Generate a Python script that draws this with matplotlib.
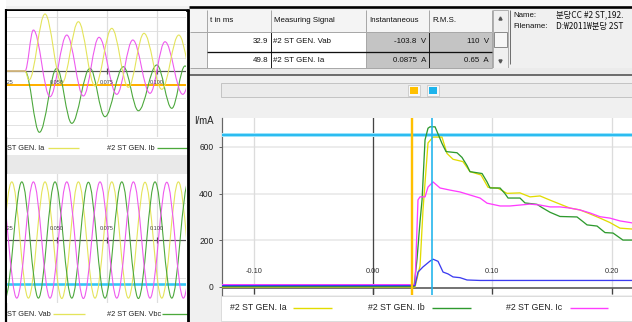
import matplotlib
matplotlib.use("Agg")
import matplotlib.pyplot as plt
from matplotlib import font_manager
from matplotlib.path import Path
from matplotlib.patches import PathPatch, Rectangle

W, H = 632, 322  # output size in pixels (dpi 100)

# ---------------------------------------------------------------- data
# cursor table (t in ms, signal, instantaneous, rms)
CURSOR_MS = [32.9, 49.8]
CURSOR_SIGNALS = ["#2 ST GEN. Vab", "#2 ST GEN. Ia"]
CURSOR_INST = ["-103.8  V", "0.0875  A"]
CURSOR_RMS = ["110  V", "0.65  A"]
TABLE_HEADER = ["t in ms", "Measuring Signal", "Instantaneous", "R.M.S."]
FILE_INFO = [("Name:", "분당CC #2 ST,192."), ("Filename:", "D:₩2011₩분당 2ST")]

# left/top: instantaneous currents (extrema), s / mA
IA_T = [0.025, 0.034, 0.036, 0.044, 0.0524, 0.0607, 0.069, 0.0774, 0.0857, 0.0935, 0.1024, 0.1109, 0.1192]
IA_V = [0, 0, -134, 851, -184, 736, -224, 637, -243, 563, -273, 537, -280]
IB_T = [0.025, 0.034, 0.0412, 0.0499, 0.0574, 0.0665, 0.074, 0.0832, 0.0907, 0.0999, 0.1074, 0.114, 0.1225]
IB_V = [0, 0, -915, 40, -781, 40, -682, 64, -593, 90, -557, 75, -540]
IC_T = [0.025, 0.034, 0.0382, 0.0465, 0.0549, 0.0632, 0.071, 0.0799, 0.0879, 0.0965, 0.104, 0.1129, 0.121]
IC_V = [0, 0, 612, -384, 537, -373, 503, -348, 463, -333, 437, -348, 430]
TOP_HLINE = -210

# left/bottom: phase-to-phase voltages (extrema), s / V
VAB_T = [0.019, 0.0274, 0.0357, 0.044, 0.0524, 0.0607, 0.069, 0.0774, 0.0857, 0.094, 0.1024, 0.1107, 0.119]
VAB_V = [-154, 156, -154, 156, -155, 156, -154, 156, -154, 155, -154, 156, -154]
VBC_T = [0.024, 0.0324, 0.0407, 0.049, 0.0574, 0.0657, 0.074, 0.0824, 0.0907, 0.099, 0.1074, 0.1157, 0.124]
VBC_V = [-154, 156, -154, 156, -154, 155, -154, 156, -155, 156, -154, 156, -154]
VCA_T = [0.0215, 0.0299, 0.0382, 0.0465, 0.0549, 0.0632, 0.0715, 0.0799, 0.0882, 0.0965, 0.1049, 0.1132, 0.1215]
VCA_V = [156, -154, 156, -154, 156, -155, 156, -154, 156, -154, 155, -154, 156]
BOT_HLINE = -116

# main chart: rms currents, s / mA
RMS_IA_T = [-0.13, 0.0352, 0.0394, 0.0419, 0.0461, 0.0503, 0.0578, 0.0620, 0.0671, 0.0754, 0.0813, 0.0905,
            0.0964, 0.1048, 0.1123, 0.1232, 0.1316, 0.1400, 0.1484, 0.1567, 0.1651, 0.1735, 0.1819, 0.1903,
            0.1986, 0.2070, 0.218]
RMS_IA_V = [0, 0, 90, 330, 617, 642, 642, 572, 547, 537, 494, 480, 427, 423, 401, 403, 386, 390, 372, 355,
            338, 330, 313, 295, 276, 252, 248]
RMS_IB_T = [-0.13, 0.0344, 0.0369, 0.0394, 0.0411, 0.0436, 0.0461, 0.0478, 0.0520, 0.0578, 0.0612, 0.0704,
            0.0746, 0.0788, 0.0813, 0.0914, 0.0956, 0.0981, 0.1065, 0.1106, 0.1132, 0.1232, 0.1274, 0.1375,
            0.1417, 0.1484, 0.1567, 0.1710, 0.1760, 0.1794, 0.1878, 0.1928, 0.1945, 0.2012, 0.2070, 0.2095, 0.218]
RMS_IB_V = [2, 2, 120, 280, 373, 630, 680, 686, 686, 615, 580, 575, 555, 520, 494, 486, 450, 424, 424, 400,
            381, 381, 360, 354, 340, 320, 302, 300, 280, 266, 261, 240, 233, 231, 210, 201, 201]
RMS_IC_T = [-0.13, 0.0352, 0.0369, 0.0377, 0.0394, 0.0436, 0.0461, 0.0503, 0.0562, 0.0645, 0.0729, 0.0813,
            0.0897, 0.0956, 0.1065, 0.1148, 0.1232, 0.1316, 0.1400, 0.1484, 0.1567, 0.1651, 0.1735, 0.1819,
            0.1903, 0.1986, 0.2070, 0.218]
RMS_IC_V = [10, 10, 257, 373, 386, 386, 428, 450, 424, 415, 407, 394, 381, 359, 347, 347, 351, 355, 351,
            343, 343, 338, 330, 317, 301, 295, 283, 274]
RMS_IN_T = [-0.13, 0.0352, 0.0377, 0.0419, 0.0478, 0.0503, 0.0545, 0.0587, 0.0629, 0.0671, 0.0729, 0.0788,
            0.0897, 0.218]
RMS_IN_V = [6, 6, 64, 86, 111, 119, 110, 64, 56, 43, 40, 30, 28, 28]

RMS_LIMIT = 650
CURSOR_COLORS = ["#ffc000", "#1eb4ec"]
MAIN_LABELS = ["#2 ST GEN. Ia", "#2 ST GEN. Ib", "#2 ST GEN. Ic"]
MAIN_COLORS = ["#e2dc00", "#2e9a2e", "#ff3cff", "#3c3cf0"]
WAVE_COLORS = ["#e4e45a", "#4ca83c", "#ee5aee"]
MAIN_XTICKS = [-0.10, 0.00, 0.10, 0.20]
MAIN_YTICKS = [0, 200, 400, 600]
LEFT_XTICKS = [0.025, 0.050, 0.075, 0.100]

# ---------------------------------------------------------------- fonts
_avail = {f.name for f in font_manager.fontManager.ttflist}
UI = next((f for f in ["Liberation Sans Narrow", "Arial Narrow", "Liberation Sans"] if f in _avail), "DejaVu Sans")
NARROW = UI != "Liberation Sans"
FS = 1.0 if NARROW else 0.83  # plain Liberation Sans runs wider than the screenshot font
plt.rcParams["font.family"] = [UI, "Noto Sans CJK KR", "DejaVu Sans"]


def fig_rect(x0, y0, x1, y1):
    return [x0 / W, 1 - y1 / H, (x1 - x0) / W, (y1 - y0) / H]


def px(v):
    return v * 0.72


def smooth_wave(ax, ts, vs, color, lw, z):
    # horizontal tangents at each extremum -> sine-like segments
    verts = [(ts[0], vs[0])]
    codes = [Path.MOVETO]
    for t0, v0, t1, v1 in zip(ts[:-1], vs[:-1], ts[1:], vs[1:]):
        d = (t1 - t0) * 0.3642
        verts += [(t0 + d, v0), (t1 - d, v1), (t1, v1)]
        codes += [Path.CURVE4] * 3
    ax.add_patch(PathPatch(Path(verts, codes), facecolor="none", edgecolor=color, lw=lw, zorder=z))


fig = plt.figure(figsize=(W / 100, H / 100), dpi=100, facecolor="#f0f0f0")

# ---------------------------------------------------------------- background / chrome
bg = fig.add_axes([0, 0, 1, 1], zorder=0)
bg.set_xlim(0, W)
bg.set_ylim(H, 0)
bg.axis("off")


def rect(x0, y0, x1, y1, fc, ec="none", lw=0.0):
    bg.add_patch(Rectangle((x0, y0), x1 - x0, y1 - y0, facecolor=fc, edgecolor=ec, lw=px(lw)))


def hline(x0, x1, y, color, lw):
    bg.plot([x0, x1], [y, y], color=color, lw=px(lw), solid_capstyle="butt")


def vline(x, y0, y1, color, lw):
    bg.plot([x, x], [y0, y1], color=color, lw=px(lw), solid_capstyle="butt")


rect(0, 0, W, 6, "#f8f8f8")
rect(0, 0, 6, H, "#ffffff")
rect(6, 10, 188, 322, "#ffffff")
rect(6, 155, 188, 174, "#e9e9e9")

# left legends
hline(6, 188, 137.5, "#e0e0e0", 1)
bg.text(7, 148, "ST GEN. Ia", fontsize=6.4 * FS, va="center", color="#222222")
hline(48, 79, 148, WAVE_COLORS[0], 1.3)
bg.text(107, 148, "#2 ST GEN. Ib", fontsize=6.4 * FS, va="center", color="#222222")
hline(157, 188, 148, WAVE_COLORS[1], 1.3)
bg.text(7, 314, "ST GEN. Vab", fontsize=6.4 * FS, va="center", color="#222222")
hline(53, 85, 314, WAVE_COLORS[0], 1.3)
bg.text(107, 314, "#2 ST GEN. Vbc", fontsize=6.4 * FS, va="center", color="#222222")
hline(162, 188, 314, WAVE_COLORS[1], 1.3)

# cursor table
cols = [190, 206.7, 270.7, 365.7, 429, 491.7]
rows = [10, 31.7, 51.7, 68.3]
TFS = 6.8 * FS
rect(190, 10, 508, 68.3, "#f0f0f0")
rect(cols[0], rows[0], cols[-1], rows[1], "#f4f4f4")
for x in cols[1:]:
    vline(x, rows[0], rows[1], "#a8a8a8", 1)
for i, label in enumerate(TABLE_HEADER):
    bg.text(cols[i + 1] + 3.5, 20.5, label, fontsize=TFS, va="center", color="#111111")
for r in range(2):
    y0, y1 = rows[r + 1], rows[r + 2]
    rect(cols[1], y0, cols[3], y1, "#ffffff")
    rect(cols[3], y0, cols[5], y1, "#c4c4c4")
    ym = (y0 + y1) / 2
    bg.text(cols[2] - 2.5, ym, f"{CURSOR_MS[r]:.1f}", fontsize=TFS, va="center", ha="right", color="#111111")
    bg.text(cols[2] + 2.5, ym, CURSOR_SIGNALS[r], fontsize=TFS, va="center", color="#111111")
    bg.text(cols[4] - 3, ym, CURSOR_INST[r], fontsize=TFS, va="center", ha="right", color="#111111")
    bg.text(cols[5] - 3, ym, CURSOR_RMS[r], fontsize=TFS, va="center", ha="right", color="#111111")
    for x, c in zip(cols[1:], ["#a8a8a8", "#202020", "#a8a8a8", "#202020", "#a8a8a8"]):
        vline(x, y0, y1, c, 1)
hline(cols[0], cols[-1], rows[1], "#a8a8a8", 1)
hline(cols[1], cols[-1], rows[2], "#101010", 1.3)
hline(cols[0], cols[-1], rows[3], "#a8a8a8", 1)

# scrollbar
rect(492.5, 10, 508, 68.3, "#f0f0f0", "#b0b0b0", 1)
rect(494, 32, 507, 47, "#f6f6f6", "#8c8c8c", 1)
bg.plot([500.3], [18], marker="^", ms=2.2, color="#555555")
bg.plot([500.3], [61], marker="v", ms=2.2, color="#555555")

# file info panel
rect(509, 10, W, 68.3, "#f0f0f0")
vline(509.5, 10, 64, "#707070", 1)
for i, (key, val) in enumerate(FILE_INFO):
    bg.text(513, 15 + 11 * i, key, fontsize=6.8 * FS, va="center", color="#111111")
    bg.text(556, 15 + 11 * i, val, fontsize=6.0, va="center", color="#111111",
            family=["Noto Sans CJK KR", "DejaVu Sans"])

# separator + toolbar
rect(189, 68.3, W, 75, "#ebebeb")
hline(189, W, 75, "#505050", 1.6)
rect(221, 83, W + 2, 97, "#ebebeb", "#c4c4c4", 1)
for (x0, x1), c in zip([(410, 418), (428.5, 436.5)], CURSOR_COLORS):
    rect(x0 - 2, 85, x1 + 2, 95.5, "#f8f8f8", "#cfcfcf", 1)
    rect(x0, 87, x1, 94, c)

# main legend area
rect(221, 296, W + 2, 320.5, "#ffffff", "#dcdcdc", 1)
leg_x = [(230, 293, 332), (368, 432, 471), (506, 570, 608)]
for (tx, l0, l1), lab, c in zip(leg_x, MAIN_LABELS, MAIN_COLORS):
    bg.text(tx, 308, lab, fontsize=7.6 * FS, va="center", color="#222222")
    hline(l0, l1, 308, c, 1.4)
bg.text(214, 120.5, "I/mA", fontsize=8.4 * FS, va="center", ha="right", color="#222222")

# black frame bars
hline(5, 189, 10.3, "#000000", 2.6)
hline(189, W, 7.2, "#000000", 2.6)
vline(6, 9, H, "#000000", 2.2)
vline(187.8, 9, H, "#000000", 2.8)

# ---------------------------------------------------------------- left waveform panels
def wave_panel(rect_px, ylim, grid_vals, zero_col, hval, hcol, hlw, label_v, series):
    ax = fig.add_axes(fig_rect(*rect_px), zorder=2)
    ax.set_facecolor("#ffffff")
    ax.set_xlim(0.025, 0.1145)
    ax.set_ylim(*ylim)
    for s in ax.spines.values():
        s.set_visible(False)
    ax.set_xticks([])
    ax.set_yticks([])
    for g in grid_vals:
        ax.axhline(g, color="#e2e2e2", lw=px(1), zorder=1)
    for t in LEFT_XTICKS[1:]:
        ax.axvline(t, color="#dedede", lw=px(1.2), zorder=1)
        ax.plot([t], [0], marker="|", ms=4, mew=px(1.2), color="#555555", zorder=2)
    ax.axhline(0, color=zero_col, lw=px(1.2), zorder=2)
    ax.axhline(hval, color=hcol, lw=hlw, zorder=2)
    for t in LEFT_XTICKS:
        ax.text(t, label_v, f"{t:.3f}", fontsize=4.8 * FS, ha="center", va="center", color="#444444",
                clip_on=True, zorder=6)
    for z, (ts, vs, c) in enumerate(series):
        smooth_wave(ax, ts, vs, c, px(1.1), 3 + z)
    return ax


wave_panel((7, 11, 186, 137), (-985, 896), [-800, -600, -400, 200, 400, 600, 800], "#555555",
           TOP_HLINE, "#ffb000", px(2), -175,
           [(IB_T, IB_V, WAVE_COLORS[1]), (IC_T, IC_V, WAVE_COLORS[2]), (IA_T, IA_V, WAVE_COLORS[0])])

wave_panel((7, 174, 186, 303), (-167, 177), [-100, 100], "#555555",
           BOT_HLINE, "#33c6f6", px(2.6), 32,
           [(VAB_T, VAB_V, WAVE_COLORS[0]), (VBC_T, VBC_V, WAVE_COLORS[1]), (VCA_T, VCA_V, WAVE_COLORS[2])])

# ---------------------------------------------------------------- main rms chart
ax = fig.add_axes(fig_rect(222, 118, W, 295), zorder=2)
ax.set_facecolor("#ffffff")
ax.set_xlim(-0.1266, 0.2171)
ax.set_ylim(-34.3, 723.8)
for side in ["top", "right", "bottom"]:
    ax.spines[side].set_visible(False)
ax.spines["left"].set_color("#666666")
ax.spines["left"].set_linewidth(px(1.2))
ax.set_xticks([])
ax.set_yticks(MAIN_YTICKS)
ax.tick_params(axis="y", length=px(3.5), width=px(1), color="#666666", labelsize=7.4 * FS, pad=px(5),
               labelcolor="#222222")

for v in MAIN_YTICKS[1:]:
    ax.axhline(v, color="#e6e6e6", lw=px(1.5), zorder=1)
for t in MAIN_XTICKS:
    ax.axvline(t, color="#444444" if t == 0 else "#dcdcdc", lw=px(1.3), zorder=1)
    ax.text(t, 68, f"{t:.2f}", fontsize=6.4 * FS, ha="center", va="center", color="#333333", zorder=6)
ax.axhline(-4.3, color="#555555", lw=px(1.6), zorder=2)
ax.vlines(MAIN_XTICKS, -30, -4.3, color="#444444", lw=px(1.3), zorder=2)

ax.axhline(RMS_LIMIT, color="#9be3fb", lw=px(4), zorder=3)
ax.axhline(RMS_LIMIT, color="#2cbcf0", lw=px(2), zorder=3)

series = [(RMS_IA_T, RMS_IA_V, MAIN_COLORS[0]), (RMS_IB_T, RMS_IB_V, MAIN_COLORS[1]),
          (RMS_IC_T, RMS_IC_V, MAIN_COLORS[2]), (RMS_IN_T, RMS_IN_V, MAIN_COLORS[3])]
for z, (ts, vs, c) in enumerate(series):
    ax.plot(ts, vs, color=c, lw=px(1.3), zorder=4 + z, solid_joinstyle="round")

for ms, c, lw in zip(CURSOR_MS, CURSOR_COLORS, [2.4, 1.6]):
    ax.axvline(ms / 1000, color=c, lw=px(lw), zorder=9)

fig.savefig("out.png", dpi=100, facecolor=fig.get_facecolor())
